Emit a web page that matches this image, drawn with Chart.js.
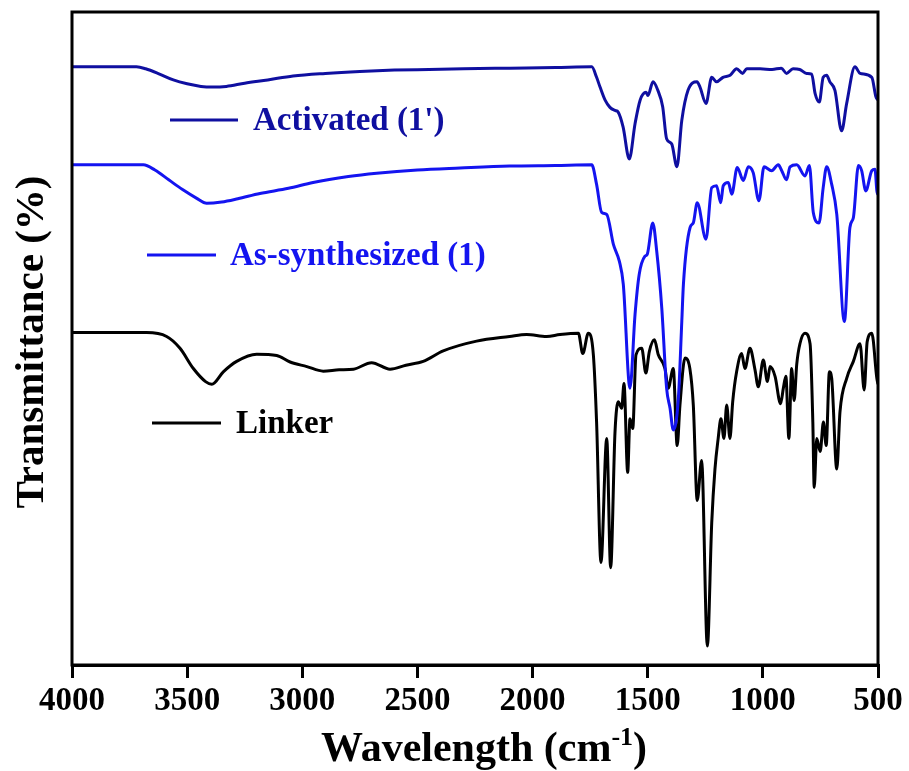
<!doctype html>
<html lang="en">
  <head>
    <meta charset="utf-8">
    <title>FT-IR spectra</title>
    <style>
      body { margin: 0; background: #fff; }
    </style>
  </head>
  <body>
    <canvas id="irChart" width="909" height="771"></canvas>

    <script src="https://cdn.jsdelivr.net/npm/chart.js"></script>
    <script>
      // wavenumber (cm-1) / transmittance pairs, one set per sample
      const act_wn = [4000, 3720, 3680, 3620, 3560, 3500, 3440, 3390, 3330, 3250, 3150, 3040, 2900, 2750, 2600, 2450, 2300, 2100, 1900, 1743, 1722, 1707, 1685, 1664, 1640, 1629, 1607, 1580, 1555, 1533, 1507, 1499, 1477, 1456, 1435, 1418, 1396, 1373, 1352, 1325, 1286, 1273, 1247, 1222, 1201, 1173, 1142, 1114, 1088, 1070, 1012, 960, 920, 897, 869, 840, 810, 788, 773, 755, 738, 723, 709, 687, 658, 636, 600, 578, 527, 509, 500];
      const act_T  = [91.6, 91.6, 91.3, 90.5, 89.6, 89.0, 88.6, 88.5, 88.6, 89.1, 89.6, 90.2, 90.6, 90.9, 91.1, 91.2, 91.3, 91.4, 91.5, 91.6, 90.0, 88.5, 86.5, 85.4, 84.9, 84.7, 82.4, 77.5, 82.9, 86.5, 87.7, 87.2, 89.3, 88.0, 85.5, 80.6, 79.8, 76.3, 83.4, 88.0, 89.3, 88.5, 86.0, 90.0, 89.3, 90.0, 90.3, 91.3, 90.6, 91.3, 91.3, 91.2, 91.4, 90.6, 91.3, 91.2, 90.6, 90.5, 87.5, 86.2, 90.0, 90.3, 89.3, 88.0, 81.8, 86.0, 91.6, 90.6, 90.0, 87.0, 86.5];

      const syn_wn = [4000, 3690, 3640, 3580, 3520, 3460, 3415, 3350, 3280, 3184, 3060, 2953, 2800, 2677, 2500, 2315, 2100, 1900, 1743, 1722, 1700, 1678, 1649, 1623, 1606, 1577, 1555, 1537, 1512, 1502, 1478, 1461, 1439, 1418, 1403, 1389, 1367, 1352, 1345, 1316, 1302, 1285, 1247, 1222, 1201, 1183, 1172, 1150, 1135, 1111, 1085, 1063, 1042, 1017, 995, 962, 933, 918, 897, 882, 853, 817, 798, 781, 756, 738, 723, 701, 679, 646, 622, 607, 585, 571, 553, 527, 513, 505, 500];
      const syn_T  = [76.6, 76.6, 75.8, 74.3, 72.8, 71.5, 70.7, 70.9, 71.4, 72.2, 73.0, 73.9, 74.8, 75.3, 75.8, 76.1, 76.4, 76.5, 76.6, 73.6, 69.3, 69.0, 64.4, 61.8, 58.3, 42.4, 53.7, 59.8, 62.6, 62.9, 67.7, 63.4, 54.7, 42.4, 39.3, 36.0, 40.8, 52.6, 58.3, 67.0, 67.7, 70.8, 65.2, 73.1, 73.4, 70.8, 73.4, 73.9, 72.1, 76.2, 74.2, 76.3, 75.4, 71.1, 76.3, 75.7, 76.6, 75.7, 74.3, 76.3, 76.6, 74.9, 76.5, 69.3, 67.7, 73.1, 76.3, 73.6, 69.0, 52.6, 67.0, 68.5, 76.5, 75.7, 72.6, 75.7, 75.9, 72.6, 72.0];

      const lnk_wn = [4000, 3800, 3676, 3589, 3531, 3473, 3420, 3393, 3343, 3285, 3198, 3111, 3053, 2980, 2909, 2840, 2778, 2699, 2619, 2550, 2475, 2388, 2243, 2100, 2026, 1939, 1881, 1801, 1782, 1758, 1736, 1722, 1703, 1678, 1661, 1642, 1628, 1613, 1603, 1587, 1577, 1565, 1551, 1526, 1508, 1493, 1471, 1454, 1425, 1411, 1389, 1372, 1360, 1338, 1317, 1302, 1285, 1266, 1241, 1222, 1208, 1194, 1182, 1169, 1157, 1143, 1131, 1114, 1092, 1078, 1056, 1034, 1020, 998, 980, 969, 947, 923, 911, 900, 887, 875, 864, 853, 839, 817, 795, 783, 777, 766, 751, 737, 725, 711, 701, 679, 665, 636, 607, 578, 560, 547, 527, 505, 500];
      const lnk_T  = [50.9, 50.9, 50.9, 50.3, 48.5, 45.4, 43.4, 43.0, 44.9, 46.5, 47.6, 47.4, 46.4, 45.7, 45.0, 45.2, 45.3, 46.3, 45.3, 45.9, 46.5, 48.1, 49.6, 50.3, 50.6, 50.3, 50.6, 50.8, 47.7, 50.8, 47.5, 37.2, 15.7, 34.7, 14.9, 35.7, 40.3, 39.3, 43.1, 29.5, 37.7, 36.2, 47.5, 48.5, 44.7, 48.0, 49.8, 47.5, 45.4, 42.4, 45.4, 33.6, 39.8, 47.0, 45.4, 39.8, 25.2, 31.3, 2.9, 21.8, 30.0, 34.7, 37.7, 34.7, 39.8, 34.7, 40.3, 44.9, 47.7, 45.4, 48.5, 45.2, 42.6, 46.7, 43.4, 45.7, 44.2, 40.0, 42.4, 44.2, 34.7, 45.4, 40.5, 46.0, 49.2, 50.8, 49.2, 37.2, 27.2, 34.7, 32.7, 37.2, 33.6, 44.9, 43.9, 30.0, 38.8, 43.9, 46.5, 49.2, 42.1, 49.5, 50.8, 43.9, 43.0];

      const series_names  = ["Activated (1')", 'As-synthesized (1)', 'Linker'];
      const series_colors = ['#0f0fa0', '#1414f0', '#000000'];
      const x_ticks = [4000, 3500, 3000, 2500, 2000, 1500, 1000, 500];

      const serif = '"Liberation Serif", "Times New Roman", serif';

      function pairs(wn, t) {
        return wn.map((w, i) => ({ x: w, y: t[i] }));
      }

      function makeSet(idx, wn, t) {
        return {
          label: series_names[idx],
          data: pairs(wn, t),
          borderColor: series_colors[idx],
          borderWidth: 3,
          pointRadius: 0,
          cubicInterpolationMode: 'monotone',
          fill: false
        };
      }

      // frame, inline legend and axis titles (the x title needs a superscript)
      const decorations = {
        id: 'decorations',
        afterDraw(chart) {
          const ctx = chart.ctx;
          const a = chart.chartArea;
          ctx.save();

          ctx.strokeStyle = '#000';
          ctx.lineWidth = 3;
          ctx.strokeRect(a.left, a.top, a.right - a.left, a.bottom - a.top);

          const keys = [
            { line: [170, 238], y: 120, tx: 253 },
            { line: [147, 216], y: 255, tx: 230 },
            { line: [152, 221], y: 423, tx: 236 }
          ];
          ctx.font = 'bold 33px ' + serif;
          ctx.textBaseline = 'middle';
          ctx.textAlign = 'left';
          keys.forEach((k, i) => {
            ctx.strokeStyle = series_colors[i];
            ctx.lineWidth = 3;
            ctx.beginPath();
            ctx.moveTo(k.line[0], k.y);
            ctx.lineTo(k.line[1], k.y);
            ctx.stroke();
            ctx.fillStyle = series_colors[i];
            ctx.fillText(series_names[i], k.tx, k.y + 1);
          });

          ctx.fillStyle = '#000';
          ctx.textBaseline = 'alphabetic';

          // y title
          ctx.save();
          ctx.translate(43, 342);
          ctx.rotate(-Math.PI / 2);
          ctx.textAlign = 'center';
          ctx.font = 'bold 41px ' + serif;
          ctx.fillText('Transmittance (%)', 0, 0);
          ctx.restore();

          // x title with superscript -1
          const big = 'bold 42px ' + serif;
          const small = 'bold 26px ' + serif;
          const p1 = 'Wavelength (cm', p2 = '-1', p3 = ')';
          ctx.font = big;
          const w1 = ctx.measureText(p1).width;
          const w3 = ctx.measureText(p3).width;
          ctx.font = small;
          const w2 = ctx.measureText(p2).width;
          let x = 484 - (w1 + w2 + w3) / 2;
          const base = 761;
          ctx.textAlign = 'left';
          ctx.font = big;
          ctx.fillText(p1, x, base);
          x += w1;
          ctx.font = small;
          ctx.fillText(p2, x, base - 16);
          x += w2;
          ctx.font = big;
          ctx.fillText(p3, x, base);

          ctx.restore();
        }
      };

      const irChart = new Chart(document.getElementById('irChart'), {
        type: 'line',
        data: {
          datasets: [
            makeSet(0, act_wn, act_T),
            makeSet(1, syn_wn, syn_T),
            makeSet(2, lnk_wn, lnk_T)
          ]
        },
        options: {
          responsive: false,
          animation: false,
          layout: { padding: { left: 72, right: 31, top: 12, bottom: 0 } },
          plugins: {
            legend: { display: false },
            tooltip: { enabled: false }
          },
          scales: {
            x: {
              type: 'linear',
              reverse: true,
              min: 500,
              max: 4000,
              afterFit(scale) { scale.height = 106; },
              afterBuildTicks(scale) {
                scale.ticks = x_ticks.map(v => ({ value: v }));
              },
              grid: {
                drawOnChartArea: false,
                drawTicks: true,
                tickLength: 13,
                lineWidth: 3,
                tickWidth: 3,
                color: '#000'
              },
              border: { display: true, width: 3, color: '#000' },
              ticks: {
                color: '#000',
                padding: 4,
                maxRotation: 0,
                callback: v => String(v),
                font: { family: serif, size: 33, weight: 'bold' }
              }
            },
            y: {
              display: false,
              min: 0,
              max: 100
            }
          }
        },
        plugins: [decorations]
      });
    </script>
  </body>
</html>
